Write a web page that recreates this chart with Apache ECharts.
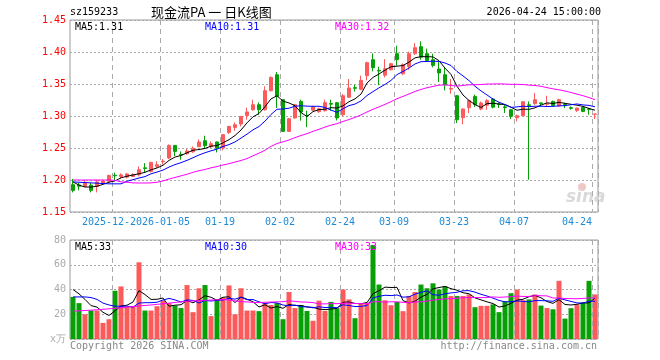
<!DOCTYPE html>
<html><head><meta charset="utf-8">
<script src="https://cdn.jsdelivr.net/npm/echarts@6/dist/echarts.min.js"></script>
<style>html,body{margin:0;padding:0;background:#fff}#c{width:660px;height:360px}</style>
</head><body><div id="c"></div>
<script>
const dates = [
'2025-12-11','2025-12-12','2025-12-15','2025-12-16','2025-12-17','2025-12-18','2025-12-19','2025-12-22','2025-12-23','2025-12-24','2025-12-25','2025-12-26','2025-12-29','2025-12-30','2025-12-31',
'2026-01-05','2026-01-06','2026-01-07','2026-01-08','2026-01-09','2026-01-12','2026-01-13','2026-01-14','2026-01-15','2026-01-16','2026-01-19','2026-01-20','2026-01-21','2026-01-22','2026-01-23','2026-01-26','2026-01-27','2026-01-28','2026-01-29','2026-01-30',
'2026-02-02','2026-02-03','2026-02-04','2026-02-05','2026-02-06','2026-02-09','2026-02-10','2026-02-11','2026-02-12','2026-02-13','2026-02-24','2026-02-25','2026-02-26','2026-02-27',
'2026-03-02','2026-03-03','2026-03-04','2026-03-05','2026-03-06','2026-03-09','2026-03-10','2026-03-11','2026-03-12','2026-03-13','2026-03-16','2026-03-17','2026-03-18','2026-03-19','2026-03-20','2026-03-23','2026-03-24','2026-03-25','2026-03-26','2026-03-27','2026-03-30','2026-03-31',
'2026-04-01','2026-04-02','2026-04-03','2026-04-07','2026-04-08','2026-04-09','2026-04-10','2026-04-13','2026-04-14','2026-04-15','2026-04-16','2026-04-17','2026-04-20','2026-04-21','2026-04-22','2026-04-23','2026-04-24'];

const opens = [1.1927,1.1922,1.190,1.1919,1.190,1.1945,1.198,1.2075,1.2055,1.2045,
1.2055,1.2083,1.219,1.2134,1.2213,1.2285,1.2344,1.2541,1.240,1.2411,
1.2442,1.252,1.2614,1.252,1.2594,1.250,1.2744,1.2822,1.2875,1.3009,
1.3098,1.3177,1.3098,1.3395,1.3645,1.3255,1.2759,1.2969,1.3228,1.301,
1.3091,1.3067,1.3083,1.3195,1.3208,1.302,1.3294,1.3443,1.3419,1.363,
1.388,1.3713,1.3638,1.3723,1.3973,1.3661,1.3775,1.3973,1.4083,1.3973,
1.388,1.3734,1.3645,1.342,1.3317,1.2973,1.313,1.3306,1.3109,1.3169,
1.3266,1.3189,1.3143,1.3098,1.2973,1.3005,1.3175,1.3192,1.3205,1.3183,
1.3228,1.3161,1.3189,1.313,1.3088,1.3134,1.3111,1.3028];
const closes = [1.1838,1.1903,1.1963,1.1838,1.197,1.1985,1.207,1.2065,1.208,1.2095,
1.2085,1.2161,1.218,1.2275,1.2239,1.2295,1.2541,1.2447,1.239,1.2453,
1.2494,1.2594,1.2536,1.2567,1.250,1.2708,1.2838,1.2864,1.2994,1.3063,
1.3177,1.3098,1.3395,1.3603,1.3306,1.276,1.2958,1.3177,1.3063,1.300,
1.3145,1.3114,1.3208,1.3185,1.2969,1.3317,1.3438,1.3433,1.3556,1.3833,
1.3755,1.3703,1.3739,1.3817,1.388,1.3802,1.3973,1.4067,1.3919,1.3869,
1.3791,1.3672,1.3489,1.343,1.2942,1.3109,1.3239,1.3177,1.3203,1.3239,
1.3138,1.3179,1.3133,1.2994,1.3005,1.3223,1.3165,1.3255,1.3195,1.3193,
1.3166,1.3255,1.3179,1.312,1.3125,1.3072,1.3101,1.3031];
const lows = [1.1806,1.1838,1.1888,1.1806,1.1806,1.193,1.197,1.200,1.2025,1.2025,
1.2045,1.2056,1.211,1.2119,1.2188,1.2239,1.2328,1.2375,1.2317,1.2395,
1.2422,1.2512,1.250,1.250,1.2431,1.2463,1.2719,1.277,1.2838,1.2942,
1.3083,1.302,1.3083,1.3384,1.3125,1.275,1.275,1.296,1.2927,1.2825,
1.308,1.305,1.307,1.3083,1.2931,1.2994,1.3281,1.3384,1.3403,1.3556,
1.3697,1.3481,1.3603,1.371,1.3786,1.364,1.3723,1.3958,1.388,1.3848,
1.376,1.3531,1.340,1.3348,1.2891,1.2872,1.3047,1.3141,1.309,1.3098,
1.312,1.3125,1.3047,1.2953,1.2916,1.300,1.2005,1.3177,1.315,1.315,
1.315,1.314,1.3125,1.3098,1.3063,1.306,1.302,1.2953];
const highs = [1.2016,1.1958,1.1997,1.1953,1.2005,1.2005,1.2085,1.2115,1.2105,1.2105,
1.2105,1.2213,1.2263,1.2286,1.2291,1.2328,1.2556,1.2545,1.2447,1.2484,
1.2525,1.2634,1.2692,1.2603,1.260,1.2719,1.2845,1.290,1.300,1.313,
1.3255,1.3213,1.3463,1.3619,1.3688,1.326,1.297,1.3185,1.3255,1.3083,
1.316,1.313,1.3255,1.3255,1.322,1.3344,1.3578,1.3489,1.363,1.3848,
1.3978,1.377,1.3888,1.383,1.4098,1.382,1.4005,1.4138,1.4166,1.4052,
1.3973,1.3844,1.3766,1.3578,1.332,1.312,1.3255,1.3333,1.3225,1.3266,
1.328,1.3213,1.3177,1.311,1.302,1.3228,1.3228,1.3359,1.3213,1.3317,
1.324,1.327,1.3205,1.315,1.3128,1.3145,1.3125,1.3035];
const volumes = [34,29,20,23,23,13,16,39,42.5,26,
26,62,23,23,26.5,31,29,27,25,43.6,
21.7,41,43.6,18.5,32,33.4,43.3,20,41,23,
23,22.5,29,27.5,29,16,38,25,27.5,22.7,
14.7,31,22.7,30,24.9,40,32,16.8,28.9,29.4,
76,44,31.3,27.3,30,22.5,34.8,38,44,41,
45,40,42.5,34.8,34.8,34.8,36,25.7,26.8,26.8,
28,21.7,30.5,37,40,31.3,32,36,27,25,
24,47,16.5,24.9,28,29.4,47,36];

// first points of the moving averages (their windows start before the shown range)
const ma5Head = [1.197,1.192,1.189,1.189];
const ma10Head = [1.197,1.1965,1.196,1.1955,1.195,1.1945,1.194,1.194,1.194];
const ma30Head = [1.200,1.200,1.200,1.200,1.200,1.200,1.200,1.1995,1.197,1.1965,
1.1955,1.1953,1.1953,1.1955,1.1965,1.1985,1.2015,1.204,1.2065,1.209,
1.212,1.2145,1.2165,1.219,1.221,1.2235,1.2255,1.228,1.2305];
const vma5Head = [40,36.5,32,27];
const vma10Head = [34,34,34,33.5,32,29,27.5,26.5,26.5];
const vma30Head = [22.5,22.8,23,23.3,23.6,24,24.4,24.8,25.3,25.8,
26.2,26.7,27.1,27.5,28,28.5,29,29.5,30,30.5,
30.8,31,31.3,31.5,31.7,31.8,31.5,30.8,30.2];

const tickIdx = [7,15,25,35,45,54,64,74,87];
const tickText = ['2025-12-22','2026-01-05','01-19','02-02','02-24','03-09','03-23','04-07','04-24'];
const priceMaText = ['MA5:1.31','MA10:1.31','MA30:1.32'];
const volMaText = ['MA5:33','MA10:30','MA30:33'];

const UP = '#fd5b5b', DOWN = '#07a107';
const MONO = '"DejaVu Sans Mono", "Liberation Mono", monospace';

function movingAvg(arr, n, head) {
  return arr.map((v, i) => {
    if (i < n - 1) return head[i];
    let s = 0;
    for (let k = i - n + 1; k <= i; k++) s += arr[k];
    return +(s / n).toFixed(4);
  });
}

const kData = opens.map((o, i) => [o, closes[i], lows[i], highs[i]]);
const volData = volumes.map((v, i) => ({ value: v, itemStyle: { color: closes[i] >= opens[i] ? UP : DOWN } }));

const chart = echarts.init(document.getElementById('c'), null, { renderer: 'canvas' });

const isTick = (i) => tickIdx.indexOf(i) >= 0;
const baseRich = { fontSize: 10, fontFamily: MONO, color: '#1f8bd6', backgroundColor: '#fff', lineHeight: 12 };
const richSet = {
  n: Object.assign({}, baseRich, { padding: [0, 6, 0, 0] }),
  l: Object.assign({}, baseRich, { padding: [0, 36, 0, 0] })
};
const fmt = (v, i) => {
  const t = tickText[tickIdx.indexOf(i)];
  return i === dates.length - 1 ? '{l|' + t + '}' : '{n|' + t + '}';
};

// main date axis: every tick label except the first one
function xAxisCfg(gridIndex, showLabel) {
  return {
    type: 'category', gridIndex, data: dates, boundaryGap: true, z: 3,
    axisLine: { show: false }, axisTick: { show: false },
    axisLabel: {
      show: showLabel, interval: (i) => isTick(i) && i !== tickIdx[0], margin: 4,
      hideOverlap: false, showMinLabel: true, showMaxLabel: true,
      formatter: fmt, rich: richSet
    },
    splitLine: { show: true, interval: (i) => isTick(i), lineStyle: { color: '#aaa', type: [5, 4], width: 1 } }
  };
}
// a second date axis on the price grid that carries only the first tick label (drawn underneath)
const firstLabelAxis = {
  type: 'category', gridIndex: 0, data: dates, boundaryGap: true, position: 'bottom', offset: 0, z: 1,
  axisLine: { show: false }, axisTick: { show: false }, splitLine: { show: false },
  axisLabel: { show: true, interval: (i) => i === tickIdx[0], margin: 4, hideOverlap: false,
    showMinLabel: true, showMaxLabel: true, formatter: fmt, rich: richSet }
};

const lineS = (name, data, color, xi, yi) => ({
  name, type: 'line', data, xAxisIndex: xi, yAxisIndex: yi, symbol: 'none', smooth: false,
  lineStyle: { color, width: 1 }, silent: true, z: 5
});

const option = {
  animation: false,
  backgroundColor: '#fff',
  grid: [
    { left: 70, top: 20, width: 528, height: 192, show: true, borderColor: '#9a9a9a', borderWidth: 1, backgroundColor: 'transparent' },
    { left: 70, top: 240, width: 528, height: 99, show: true, borderColor: '#9a9a9a', borderWidth: 1, backgroundColor: 'transparent' }
  ],
  xAxis: [xAxisCfg(0, true), xAxisCfg(1, false), firstLabelAxis],
  yAxis: [
    { type: 'value', gridIndex: 0, min: 1.15, max: 1.45, interval: 0.05,
      axisLine: { show: false }, axisTick: { show: false },
      axisLabel: { color: '#ff0000', fontSize: 10, fontFamily: MONO, margin: 4, formatter: (v) => v.toFixed(2) },
      splitLine: { lineStyle: { color: '#aaa', type: [2, 2] } } },
    { type: 'value', gridIndex: 1, min: 0, max: 80, interval: 20,
      axisLine: { show: false }, axisTick: { show: false },
      axisLabel: { color: '#aaa', fontSize: 10, fontFamily: MONO, margin: 4, formatter: (v) => v === 0 ? 'x万' : String(v) },
      splitLine: { lineStyle: { color: '#aaa', type: [2, 2] } } }
  ],
  series: [
    { type: 'candlestick', data: kData, xAxisIndex: 0, yAxisIndex: 0, barWidth: 4,
      itemStyle: { color: UP, color0: DOWN, borderColor: UP, borderColor0: DOWN, borderWidth: 1 }, silent: true },
    lineS('MA5', movingAvg(closes, 5, ma5Head), '#000000', 0, 0),
    lineS('MA10', movingAvg(closes, 10, ma10Head), '#0000ff', 0, 0),
    lineS('MA30', movingAvg(closes, 30, ma30Head), '#ff00ff', 0, 0),
    { type: 'bar', data: volData, xAxisIndex: 1, yAxisIndex: 1, barWidth: 5, silent: true },
    lineS('VMA5', movingAvg(volumes, 5, vma5Head), '#000000', 1, 1),
    lineS('VMA10', movingAvg(volumes, 10, vma10Head), '#0000ff', 1, 1),
    lineS('VMA30', movingAvg(volumes, 30, vma30Head), '#ff00ff', 1, 1)
  ],
  graphic: [
    { type: 'text', x: 70, y: 12, style: { text: 'sz159233', font: '10px ' + MONO, fill: '#000', verticalAlign: 'middle' } },
    { type: 'text', x: 151, y: 12, style: { text: '现金流PA 一 日K线图', font: '13px "Noto Sans CJK SC"', fill: '#000', verticalAlign: 'middle' } },
    { type: 'text', x: 601, y: 12, style: { text: '2026-04-24 15:00:00', font: '10px ' + MONO, fill: '#000', align: 'right', verticalAlign: 'middle' } },
    { type: 'text', x: 75, y: 27, z: 100, style: { text: priceMaText[0], font: '10px ' + MONO, fill: '#000', verticalAlign: 'middle' } },
    { type: 'text', x: 205, y: 27, z: 100, style: { text: priceMaText[1], font: '10px ' + MONO, fill: '#0000ff', verticalAlign: 'middle' } },
    { type: 'text', x: 335, y: 27, z: 100, style: { text: priceMaText[2], font: '10px ' + MONO, fill: '#ff00ff', verticalAlign: 'middle' } },
    { type: 'text', x: 75, y: 247, z: 100, style: { text: volMaText[0], font: '10px ' + MONO, fill: '#000', verticalAlign: 'middle' } },
    { type: 'text', x: 205, y: 247, z: 100, style: { text: volMaText[1], font: '10px ' + MONO, fill: '#0000ff', verticalAlign: 'middle' } },
    { type: 'text', x: 335, y: 247, z: 100, style: { text: volMaText[2], font: '10px ' + MONO, fill: '#ff00ff', verticalAlign: 'middle' } },
    { type: 'circle', shape: { cx: 582, cy: 187, r: 4 }, style: { fill: '#f3c6c6' }, z: 1 },
    { type: 'text', x: 566, y: 198, z: 1, style: { text: 'sina', font: 'italic bold 17px "DejaVu Sans"', fill: '#d9d9d9', verticalAlign: 'middle' } },
    { type: 'text', x: 70, y: 346, style: { text: 'Copyright 2026 SINA.COM', font: '10px ' + MONO, fill: '#888', verticalAlign: 'middle' } },
    { type: 'text', x: 597, y: 346, style: { text: 'http://finance.sina.com.cn', font: '10px ' + MONO, fill: '#888', align: 'right', verticalAlign: 'middle' } }
  ]
};
chart.setOption(option);
</script>
</body></html>
